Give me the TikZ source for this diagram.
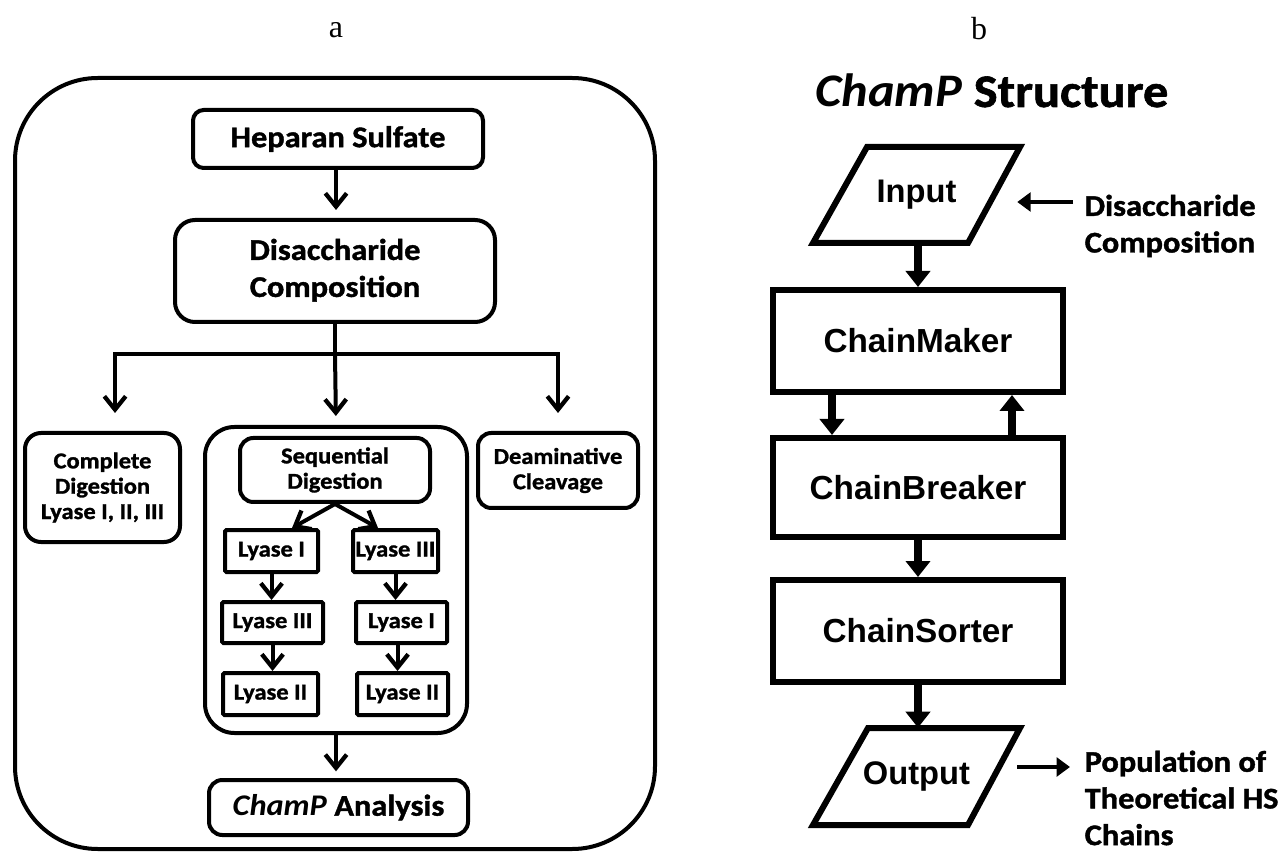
\documentclass[tikz,border=0pt]{standalone}
\usepackage{fontspec}
\setmainfont{Liberation Serif}
\newfontfamily\calf[FakeStretch=1.08, BoldFeatures={FakeBold=1.3}]{Carlito}
\newfontfamily\arif{Liberation Sans}
\usetikzlibrary{arrows.meta,calc}
\begin{document}
\begin{tikzpicture}[x=0.75pt,y=-0.75pt,
  sz/.style 2 args={minimum width={#1*0.75pt}, minimum height={#2*0.75pt}},
  bigf/.style={font=\calf\bfseries\fontsize{22.5}{27.75}\selectfont},
  smallf/.style={font=\calf\bfseries\fontsize{17}{19}\selectfont},
  lbox/.style={draw, line width=3pt, rounded corners=#1, inner sep=0pt, align=center},
  lbox/.default=8pt,
  rbox/.style={draw, line width=4.5pt, inner sep=0pt, align=center, font=\arif\bfseries\fontsize{25}{28}\selectfont},
  rline/.style={line width=4.5pt, line join=miter},
  lline/.style={line width=3pt},
  larr/.style={line width=3pt, -{Straight Barb[length=10pt,width=16pt,line width=3.2pt]}},
  rarr/.style={line width=6pt, -{Triangle[length=12pt,width=18pt]}},
  rharr/.style={line width=3.5pt, -{Triangle[length=10pt,width=14pt]}},
  rlab/.style={anchor=west, align=left, font=\calf\bfseries\fontsize{22.5}{27.5}\selectfont}
]
\useasboundingbox (0,0) rectangle (1283,852);

% panel labels
\node[font=\fontsize{24}{26}\selectfont] (pa) at (336,30) {a};
\node[font=\fontsize{24}{26}\selectfont] (pb) at (979,29) {b};

% ---------- panel a ----------
\draw[line width=3pt, rounded corners=62pt] (15,78) rectangle (655,849);

\node[lbox=8pt, bigf, sz={290}{58}] (hs) at (338,139) {Heparan Sulfate};
\node[lbox=15pt, bigf, sz={320}{102}] (dc) at (335,271) {\raisebox{-4pt}{\begin{tabular}{@{}c@{}}Disaccharide\\[0pt]Composition\end{tabular}}};
\node[lbox=12pt, smallf, sz={155}{109}] (cd) at (102.5,487.5) {Complete\\Digestion\\Lyase I, II, III};
\node[lbox=22pt, sz={262}{306}] (sc) at (336,580) {};
\node[lbox=10pt, smallf, sz={160}{75}] (da) at (558,470.5) {Deaminative\\Cleavage};
\node[lbox=10pt, smallf, sz={190}{64}] (sd) at (335,470) {Sequential\\Digestion};
\node[lbox=1pt, smallf, sz={93}{42}] (la1) at (271.5,551) {Lyase I};
\node[lbox=1pt, smallf, sz={85}{42}] (ra1) at (395.5,551) {Lyase III};
\node[lbox=1pt, smallf, sz={101}{41}] (la2) at (272.5,622.5) {Lyase III};
\node[lbox=1pt, smallf, sz={91}{41}] (ra2) at (401.5,622.5) {Lyase I};
\node[lbox=1pt, smallf, sz={95}{42}] (la3) at (270.5,694) {Lyase II};
\node[lbox=1pt, smallf, sz={91}{42}] (ra3) at (402.5,694) {Lyase II};
\node[lbox=10pt, bigf, sz={259}{55}] (ca) at (338.5,807.5) {\textit{ChamP} Analysis};

\draw[larr, shorten >=6pt] ([xshift=-1.5pt]hs.south) -- ([xshift=-1.5pt]hs.south |- dc.north);
\path (dc.south) ++(0,30) coordinate (fork);
\draw[lline] (dc.south) -- (fork);
\draw[larr, shorten >=13.5pt] (fork) -| ([xshift=9.4pt]cd.north);
\draw[larr, shorten >=6.75pt] (fork) -- (sc.north);
\draw[larr, shorten >=13.5pt] (fork) -| (da.north);

\draw[larr] (sd.south) -- ([xshift=15.4pt]la1.north);
\draw[larr] (sd.south) -- ([xshift=-13.1pt]ra1.north);
\draw[larr] (la1.south) -- (la1.south |- la2.north);
\draw[larr] (ra1.south) -- (ra1.south |- ra2.north);
\draw[larr] (la2.south) -- (la2.south |- la3.north);
\draw[larr] ([xshift=-3pt]ra2.south) -- ([xshift=-3pt]ra2.south |- ra3.north);
\draw[larr, shorten >=5pt] (sc.south) -- (sc.south |- ca.north);

% ---------- panel b ----------
\node[font=\calf\bfseries\fontsize{35}{38}\selectfont, anchor=base] (title) at (992,107) {\textit{ChamP} Structure};

\draw[rline] (867,147) -- (1020,147) -- (968,243) -- (813,243) -- cycle;
\node[inner sep=0pt, sz={207}{96}, font=\arif\bfseries\fontsize{24.5}{28}\selectfont] (in) at (916.5,195) {Input};

\node[rbox, sz={290}{102}] (cm) at (918,341) {ChainMaker};
\node[rbox, sz={290}{99}] (cb) at (918,487.5) {ChainBreaker};
\node[rbox, sz={290}{102}] (cs) at (918,631) {ChainSorter};

\draw[rline] (868,728) -- (1020,728) -- (968,825) -- (813,825) -- cycle;
\node[inner sep=0pt, sz={207}{97}, font=\arif\bfseries\fontsize{24.5}{28}\selectfont] (out) at (916.5,776.5) {Output};

\node[rlab] (dl) at (1080,226) {Disaccharide\\Composition};
\node[rlab] (pop) at (1080,798) {Population of\\Theoretical HS\\Chains};

\draw[rarr] (cm.north |- in.south) -- (cm.north);
\draw[rarr] ([xshift=-64.5pt]cm.south) -- ([xshift=-64.5pt]cb.north);
\draw[rarr] ([xshift=70.5pt]cb.north) -- ([xshift=70.5pt]cm.south);
\draw[rarr] (cb.south) -- (cs.north);
\draw[rarr] (cs.south) -- (cs.south |- out.north);

\draw[rharr] ([shift={(-7,-24)}]dl.west) -- ([shift={(-3,7)}]in.east);
\draw[rharr] ([shift={(-3,-9.5)}]out.east) -- ([shift={(-10,-31)}]pop.west);
\end{tikzpicture}
\end{document}
